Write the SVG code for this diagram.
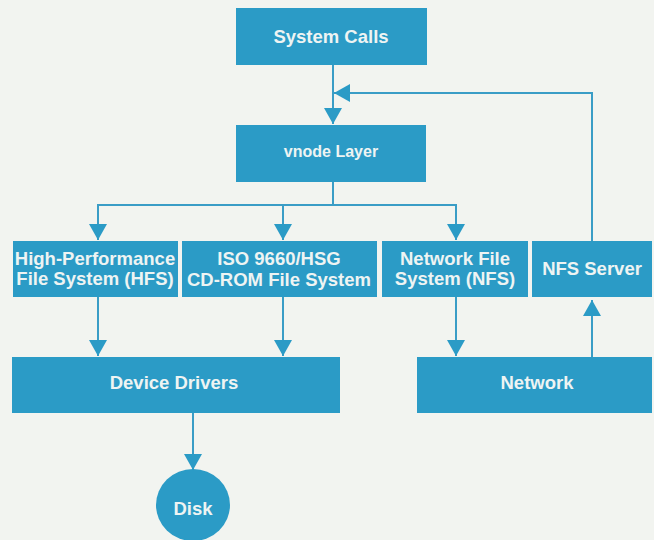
<svg xmlns="http://www.w3.org/2000/svg" width="654" height="540" viewBox="0 0 654 540">
<defs>
<style>
.box{fill:#2b9bc6;}
.t{fill:#eef4f3;font-family:"Liberation Sans",Arial,sans-serif;font-weight:bold;font-size:18.5px;text-anchor:middle;dominant-baseline:central;}
.s{font-size:16px;}
.c{fill:none;stroke:#3a9dc6;stroke-width:2;}
.a{marker-end:url(#ah);}
</style>
<marker id="ah" viewBox="0 0 16 18" refX="16" refY="9" markerWidth="16" markerHeight="18" markerUnits="userSpaceOnUse" orient="auto">
<path d="M0,0 L16,9 L0,18 z" fill="#2b9bc6"/>
</marker>
</defs>
<rect width="654" height="540" fill="#f2f4f0"/>
<g id="connectors">
<line class="c a" x1="333" y1="65" x2="333" y2="124"/>
<polyline class="c a" points="592,241 592,93 334,93"/>
<line class="c" x1="333" y1="182" x2="333" y2="205"/>
<line class="c" x1="97" y1="205" x2="457" y2="205"/>
<line class="c a" x1="98" y1="205" x2="98" y2="240"/>
<line class="c a" x1="283" y1="205" x2="283" y2="240"/>
<line class="c a" x1="456" y1="205" x2="456" y2="240"/>
<line class="c a" x1="98" y1="297" x2="98" y2="356"/>
<line class="c a" x1="283" y1="297" x2="283" y2="356"/>
<line class="c a" x1="456" y1="297" x2="456" y2="356"/>
<line class="c a" x1="592" y1="357" x2="592" y2="300"/>
<line class="c a" x1="193" y1="413" x2="193" y2="470"/>
</g>
<g id="system-calls">
<rect class="box" x="236" y="8" width="191" height="57"/>
<text class="t" x="331" y="36">System Calls</text>
</g>
<g id="vnode-layer">
<rect class="box" x="236" y="125" width="190" height="57"/>
<text class="t s" x="331" y="151">vnode Layer</text>
</g>
<g id="hfs">
<rect class="box" x="13" y="241" width="165" height="56"/>
<text class="t" x="95" y="258">High-Performance</text>
<text class="t" x="95" y="278">File System (HFS)</text>
</g>
<g id="iso">
<rect class="box" x="182" y="241" width="195" height="56"/>
<text class="t" x="279" y="258">ISO 9660/HSG</text>
<text class="t" x="279" y="279">CD-ROM File System</text>
</g>
<g id="nfs">
<rect class="box" x="382" y="241" width="146" height="56"/>
<text class="t" x="455" y="258">Network File</text>
<text class="t" x="455" y="278">System (NFS)</text>
</g>
<g id="nfs-server">
<rect class="box" x="532" y="241" width="120" height="56"/>
<text class="t" x="592" y="268">NFS Server</text>
</g>
<g id="device-drivers">
<rect class="box" x="12" y="357" width="328" height="56"/>
<text class="t" x="174" y="382">Device Drivers</text>
</g>
<g id="network">
<rect class="box" x="417" y="357" width="235" height="56"/>
<text class="t" x="537" y="382">Network</text>
</g>
<g id="disk">
<ellipse class="box" cx="193" cy="505" rx="37" ry="36"/>
<text class="t" x="193" y="508">Disk</text>
</g>
</svg>
